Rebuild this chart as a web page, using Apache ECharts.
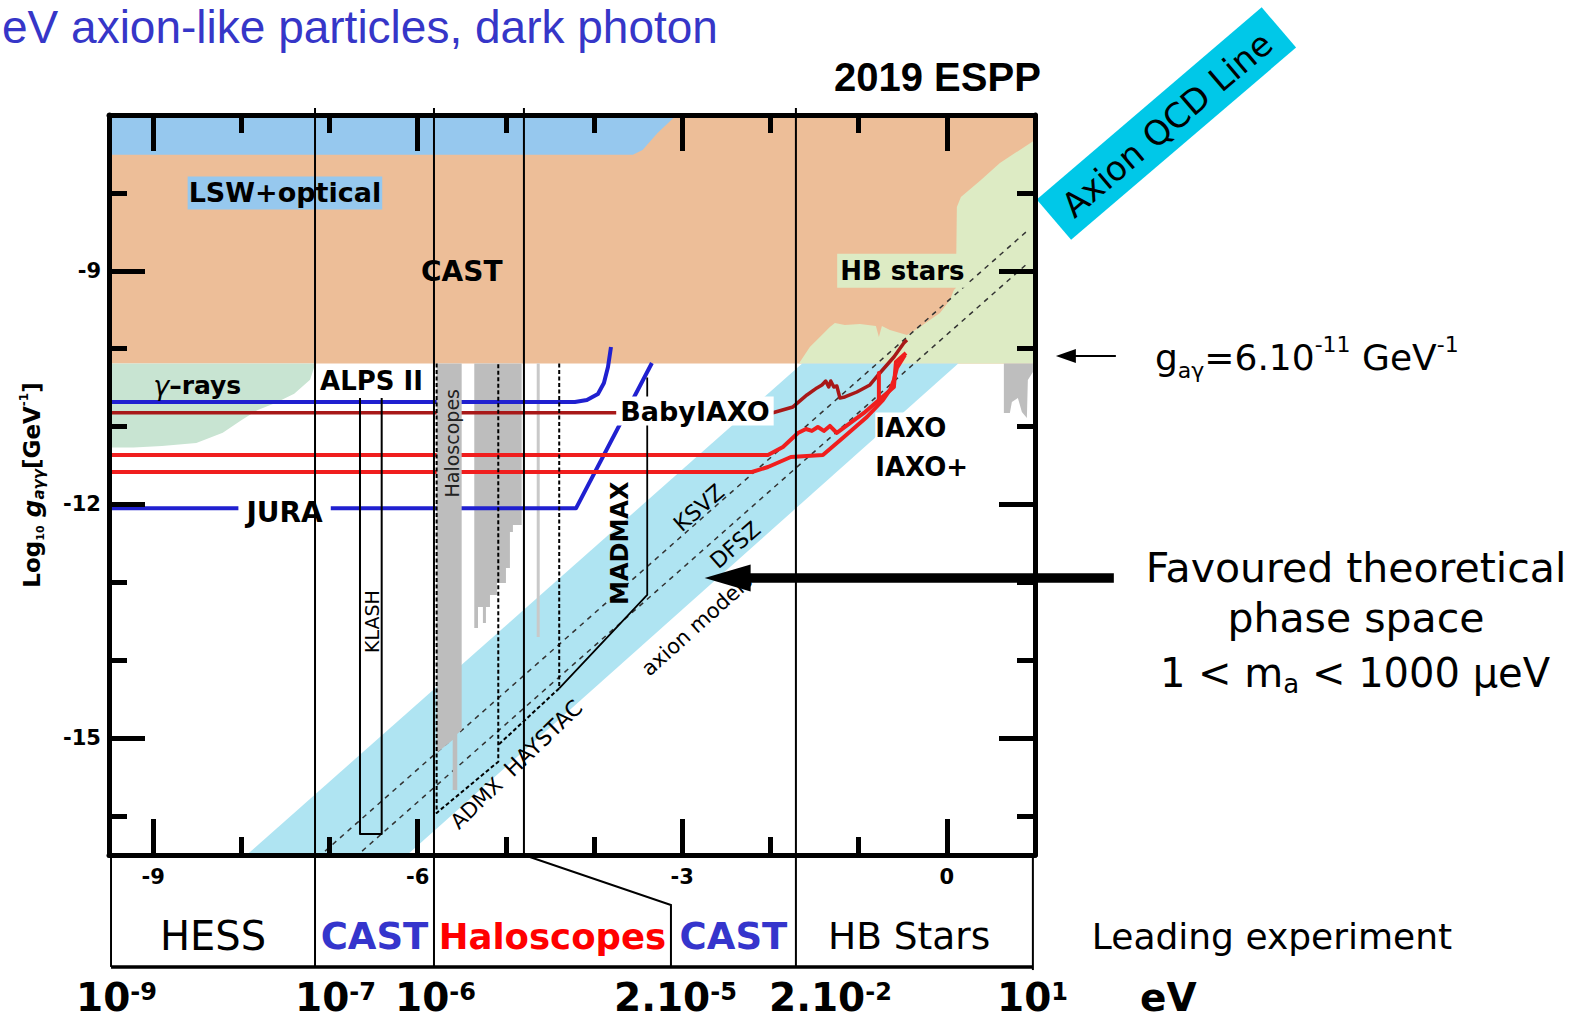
<!DOCTYPE html>
<html>
<head>
<meta charset="utf-8">
<title>Axion-like particles exclusion plot</title>
<script src="https://cdn.jsdelivr.net/npm/echarts@6.0.0/dist/echarts.min.js"></script>
<style>
html,body{margin:0;padding:0;background:#ffffff;}
#chart{width:1593px;height:1022px;}
</style>
</head>
<body>
<div id="chart"></div>
<script>
// ===== data: x = log10(m_a / eV), y = log10(g_agg / GeV^-1) =====
const xTickValues = [-9, -8, -7, -6, -5, -4, -3, -2, -1, 0];
const xLabelValues = [-9, -6, -3, 0];
const yTickValues = [-16, -15, -14, -13, -12, -11, -10, -9, -8];
const yLabelValues = [-15, -12, -9];

const castRegion = [[-9.5, -7], [1, -7], [1, -10.19], [-9.5, -10.19]];
const lswRegion = [[-9.5, -7], [-3.08, -7], [-3.1, -7.04], [-3.28, -7.23], [-3.45, -7.45], [-3.56, -7.51], [-9.5, -7.51]];
const hbRegion = [[1, -7.32], [0.602, -7.616], [0.387, -7.834], [0.16, -8.053], [0.114, -8.181], [0.103, -9.221], [0.08, -9.246], [0.035, -9.375], [-0.078, -9.542], [-0.192, -9.632], [-0.305, -9.721], [-0.452, -9.824], [-0.645, -9.76], [-0.736, -9.709], [-0.77, -9.85], [-0.804, -9.709], [-0.985, -9.683], [-1.156, -9.696], [-1.269, -9.67], [-1.326, -9.721], [-1.439, -9.85], [-1.553, -9.978], [-1.677, -10.19], [1, -10.19]];
const gammaRegion = [[-9.5, -10.19], [-7.16, -10.19], [-7.22, -10.40], [-7.40, -10.58], [-7.62, -10.70], [-7.82, -10.79], [-8.0, -10.92], [-8.21, -11.08], [-8.51, -11.21], [-8.9, -11.25], [-9.22, -11.27], [-9.5, -11.27]];
const axionBand = [[-7.94, -16.5], [-6.12, -16.5], [0.13, -10.19], [-1.64, -10.19]];
const hbGray = [[0.647, -10.19], [0.976, -10.19], [0.976, -10.299], [0.919, -10.402], [0.908, -10.89], [0.851, -10.813], [0.806, -10.633], [0.738, -10.684], [0.715, -10.825], [0.647, -10.825]];
const haloBar = [[-5.785, -10.19], [-5.501, -10.19], [-5.501, -14.895], [-5.551, -14.946], [-5.551, -15.665], [-5.603, -15.665], [-5.603, -15.023], [-5.785, -15.19]];
const haloSteps = [[-5.358, -10.19], [-4.821, -10.19], [-4.821, -12.263], [-4.92, -12.263], [-4.92, -12.353], [-4.954, -12.353], [-4.954, -12.815], [-4.999, -12.815], [-4.999, -13.008], [-5.101, -13.008], [-5.101, -13.162], [-5.18, -13.162], [-5.18, -13.316], [-5.226, -13.316], [-5.226, -13.521], [-5.26, -13.521], [-5.26, -13.316], [-5.316, -13.316], [-5.316, -13.585], [-5.358, -13.585]];
const haloThin = [[-4.633, -10.19], [-4.633, -13.70]];

const ksvzLine = [[-7.05, -16.45], [0.92, -8.48]];
const dfszLine = [[-6.63, -16.45], [0.92, -8.90]];

const alpsII = [[-9.5, -10.684], [-4.217, -10.684], [-4.081, -10.659], [-3.956, -10.581], [-3.888, -10.44], [-3.842, -10.235], [-3.808, -9.978]];
const jura = [[-9.5, -12.05], [-4.205, -12.05], [-3.344, -10.184]];
const babyIaxo = [[-9.5, -10.822], [-1.972, -10.822], [-1.745, -10.748], [-1.586, -10.594], [-1.473, -10.504], [-1.416, -10.466], [-1.373, -10.415], [-1.339, -10.492], [-1.316, -10.415], [-1.281, -10.492], [-1.247, -10.479], [-1.212, -10.633], [-1.156, -10.620], [-1.02, -10.556], [-0.872, -10.466], [-0.759, -10.312], [-0.6, -10.107], [-0.487, -9.927], [-0.452, -9.888]];
const iaxo = [[-9.5, -11.365], [-2.028, -11.365], [-1.858, -11.262], [-1.688, -11.082], [-1.597, -11.031], [-1.53, -11.056], [-1.462, -11.005], [-1.394, -11.056], [-1.326, -10.992], [-1.247, -11.082], [-0.94, -10.825], [-0.77, -10.659], [-0.77, -10.312], [-0.77, -10.659], [-0.6, -10.492], [-0.577, -10.171], [-0.463, -10.055]];
const iaxoPlus = [[-9.5, -11.583], [-2.21, -11.583], [-2.028, -11.519], [-1.768, -11.39], [-1.405, -11.365], [-1.167, -11.134], [-0.906, -10.877], [-0.725, -10.659], [-0.645, -10.53], [-0.6, -10.402], [-0.566, -10.248], [-0.475, -10.081]];

const admx = [[-5.785, -10.19], [-5.785, -15.96], [-5.086, -15.302], [-5.086, -10.19]];
const haystac = [[-4.395, -10.19], [-4.395, -14.36], [-5.086, -15.087]];
const madmax = [[-3.397, -10.37], [-3.397, -13.162], [-4.395, -14.36]];
const klash = [[-6.654, -10.633], [-6.654, -16.23], [-6.408, -16.23], [-6.408, -10.633]];

// leading-experiment mass boundaries (log10 eV)
const massBounds = [-9.477, -7.164, -5.815, -4.795, -3.128, -1.711, 0.976];
const leadingNames = ['HESS', 'CAST', 'Haloscopes', 'CAST', 'HB Stars'];
const massLabelMain = ['10', '10', '10', '2.10', '2.10', '10', 'eV'];
const massLabelSup = ['-9', '-7', '-6', '-5', '-2', '1', ''];

// ===== styling / layout =====
const FONT = 'DejaVu Sans';
const ARIAL = 'Liberation Sans';
const X_MIN = -9.5, X_MAX = 1, Y_MIN = -16.5, Y_MAX = -7;

function mkAxis(kind, pos, showLine, ticks, len, labels) {
  return {
    type: 'value', position: pos, z: 70,
    min: kind === 'x' ? X_MIN : Y_MIN, max: kind === 'x' ? X_MAX : Y_MAX,
    axisLine: {show: showLine, onZero: false, lineStyle: {color: '#000', width: 5}},
    axisTick: {show: true, inside: true, length: len, customValues: ticks, lineStyle: {color: '#000', width: 5}},
    axisLabel: labels ? {show: true, customValues: labels, margin: kind === 'x' ? 11 : 8,
      fontFamily: FONT, fontWeight: 'bold', fontSize: 21, color: '#000'} : {show: false},
    splitLine: {show: false}, axisPointer: {show: false}
  };
}
function poly(pts, color, z) {
  return {
    type: 'custom', coordinateSystem: 'cartesian2d', silent: true, z: z, animation: false,
    data: pts, encode: {x: 0, y: 1},
    renderItem: function (params, api) {
      if (params.dataIndex !== 0) return {type: 'group', children: []};
      return {type: 'polygon', shape: {points: pts.map(function (p) { return api.coord(p); })}, style: {fill: color}};
    }
  };
}
function line(pts, color, width, z, dash) {
  return {
    type: 'line', data: pts, symbol: 'none', silent: true, z: z, animation: false, clip: false,
    lineStyle: {color: color, width: width, type: dash || 'solid', join: 'round', cap: 'butt'}
  };
}

const option = {
  animation: false,
  backgroundColor: '#ffffff',
  grid: {left: 109, top: 115, width: 926, height: 740, containLabel: false},
  xAxis: [
    mkAxis('x', 'bottom', true, xTickValues, 18, xLabelValues),
    mkAxis('x', 'bottom', false, xLabelValues, 36, null),
    mkAxis('x', 'top', true, xTickValues, 18, null),
    mkAxis('x', 'top', false, xLabelValues, 36, null)
  ],
  yAxis: [
    mkAxis('y', 'left', true, yTickValues, 18, yLabelValues),
    mkAxis('y', 'left', false, yLabelValues, 36, null),
    mkAxis('y', 'right', true, yTickValues, 18, null),
    mkAxis('y', 'right', false, yLabelValues, 36, null)
  ],
  series: [
    poly(castRegion, '#EDBE98', 1),
    poly(hbRegion, '#DDEBC4', 2),
    poly(lswRegion, '#96C8EE', 3),
    poly(gammaRegion, '#C8E4D2', 2),
    poly(axionBand, '#AFE4F2', 2),
    poly(hbGray, '#BEBEBE', 3),
    poly(haloSteps, '#BDBDBD', 3),
    line(haloThin, '#C9C9C9', 3, 3),
    line(ksvzLine, '#333', 1.5, 4, [5, 5]),
    line(dfszLine, '#333', 1.5, 4, [5, 5]),
    line(alpsII, '#2020D0', 4, 5),
    line(jura, '#2020D0', 4, 5),
    line(babyIaxo, '#A81818', 3.5, 5),
    line(iaxo, '#F01E1E', 4, 5),
    line(iaxoPlus, '#F01E1E', 4, 5),
    poly(haloBar, '#BDBDBD', 6),
    line(admx, '#000', 2, 7, [4, 2.5]),
    line(haystac, '#000', 2, 7, [4, 2.5]),
    line(madmax, '#000', 1.8, 7),
    line(klash, '#000', 2, 7)
  ]
};

const chart = echarts.init(document.getElementById('chart'), null, {renderer: 'svg', width: 1593, height: 1022});
chart.setOption(option);
const P = function (x, y) { return chart.convertToPixel({gridIndex: 0}, [x, y]); };

function rs(size, o) {
  o = o || {};
  const s = {fontFamily: o.family || FONT, fontSize: size, fontWeight: o.bold ? 'bold' : 'normal',
    fontStyle: o.italic ? 'italic' : 'normal', fill: o.color || '#000', color: o.color || '#000'};
  if (o.lh) s.lineHeight = o.lh;
  if (o.va) s.verticalAlign = o.va;
  return s;
}
function T(x, y, text, o) {
  o = o || {};
  const st = {
    text: text, fill: o.color || '#000',
    fontFamily: o.family || FONT, fontSize: o.size || 20,
    fontWeight: o.bold ? 'bold' : 'normal', fontStyle: o.italic ? 'italic' : 'normal',
    align: o.align || 'center', verticalAlign: 'middle',
    textAlign: o.align || 'center', textVerticalAlign: 'middle'
  };
  if (o.bg) { st.backgroundColor = o.bg; st.padding = o.pad || 0; }
  if (o.rich) st.rich = o.rich;
  if (o.lh) st.lineHeight = o.lh;
  return {type: 'text', x: x, y: y, rotation: (o.rot || 0) * Math.PI / 180, z: o.z || 50, silent: true, style: st};
}

// annotation anchors inside the plot (data coordinates)
const plotLabels = [
  {text: 'LSW+optical', at: [-7.505, -8.0], size: 27, bold: true, bg: '#96C8EE', pad: [3, 1]},
  {text: 'CAST', at: [-5.5, -9.01], size: 28, bold: true},
  {text: 'HB stars', at: [-0.504, -9.0], size: 26, bold: true, bg: '#DDEBC4', pad: [4, 3]},
  {text: '{g|γ}{b|–rays}', at: [-8.5, -10.47], size: 25,
    rich: {g: rs(27, {italic: true}), b: rs(25, {bold: true})}},
  {text: 'ALPS II', at: [-6.524, -10.415], size: 26, bold: true},
  {text: 'BabyIAXO', at: [-2.856, -10.80], size: 27, bold: true, bg: '#fff', pad: [1, 4]},
  {text: 'JURA', at: [-7.509, -12.10], size: 28, bold: true, bg: '#fff', pad: [1, 8]},
  {text: 'IAXO', at: [-0.811, -11.012], size: 26, bold: true, align: 'left', bg: '#fff', pad: [2, 0]},
  {text: 'IAXO+', at: [-0.811, -11.515], size: 26, bold: true, align: 'left'},
  {text: 'Haloscopes', at: [-5.615, -11.214], size: 19, rot: 90, color: '#222'},
  {text: 'KLASH', at: [-6.518, -13.504], size: 19, rot: 90},
  {text: 'MADMAX', at: [-3.701, -12.498], size: 24, bold: true, rot: 90},
  {text: 'KSVZ', at: [-2.811, -12.045], size: 22, rot: 41, color: '#000'},
  {text: 'DFSZ', at: [-2.398, -12.52], size: 22, rot: 41, color: '#000'},
  {text: 'axion models', at: [-2.833, -13.547], size: 21, rot: 42, color: '#000'},
  {text: 'ADMX', at: [-5.331, -15.836], size: 21, rot: 44, color: '#000'},
  {text: 'HAYSTAC', at: [-4.576, -15.001], size: 22, rot: 44, color: '#000'}
];

const G = [];
plotLabels.forEach(function (l) {
  const p = P(l.at[0], l.at[1]);
  G.push(T(p[0], p[1], l.text, l));
});

// separator lines (through plot and the leading-experiment table)
const sepTop = -6.91, tableKink = -17.141, tableBottom = -17.937;
const sepPaths = [
  [[massBounds[1], sepTop], [massBounds[1], tableBottom]],
  [[massBounds[2], sepTop], [massBounds[2], tableBottom]],
  [[massBounds[3], sepTop], [massBounds[3], Y_MIN], [massBounds[4], tableKink], [massBounds[4], tableBottom]],
  [[massBounds[5], sepTop], [massBounds[5], tableBottom]],
  [[massBounds[0], Y_MIN], [massBounds[0], tableBottom]],
  [[massBounds[6], Y_MIN], [massBounds[6], tableBottom - 0.04]]
];
sepPaths.forEach(function (path) {
  G.push({type: 'polyline', z: 60, silent: true,
    shape: {points: path.map(function (p) { return P(p[0], p[1]); })},
    style: {stroke: '#000', lineWidth: 2, fill: null}});
});
G.push({type: 'polyline', z: 60, silent: true,
  shape: {points: [P(massBounds[0], tableBottom), P(massBounds[6], tableBottom)]},
  style: {stroke: '#000', lineWidth: 3.5, fill: null}});

// table texts
const tableStyles = [
  {size: 40, bold: false, color: '#000'},
  {size: 37, bold: true, color: '#3535CC'},
  {size: 35.5, bold: true, color: '#FF0000'},
  {size: 37, bold: true, color: '#3535CC'},
  {size: 37.5, bold: false, color: '#000'}
];
leadingNames.forEach(function (name, i) {
  let xm = (massBounds[i] + massBounds[i + 1]) / 2;
  if (i === 2) xm = (massBounds[2] + massBounds[4]) / 2;
  if (i === 3) xm = (massBounds[4] + massBounds[5]) / 2;
  if (i === 4) xm = (massBounds[5] + massBounds[6]) / 2 - 0.06;
  const px = P(xm, -17.54);
  G.push(T(px[0], 936, name, tableStyles[i]));
});
G.push(T(1272, 936, 'Leading experiment', {size: 36}));

// mass labels row
const massLabelX = [76, 295, 395, 614, 769, 997, 1140];
const massRich = {
  m: rs(39, {bold: true, lh: 34}),
  s: rs(24, {bold: true, lh: 22, va: 'top'})
};
massLabelMain.forEach(function (m, i) {
  const txt = '{m|' + m + '}' + (massLabelSup[i] ? '{s|' + massLabelSup[i] + '}' : '');
  G.push(T(massLabelX[i], 997, txt, {size: 39, bold: true, align: 'left', rich: massRich, lh: 34}));
});

// y-axis name
G.push(T(32, 485, '{a|Log}{s|10}{a| }{g|g}{gs|aγγ}{a|[GeV}{u|-1}{a|]}', {
  size: 22, bold: true, rot: 90,
  rich: {
    a: rs(23, {bold: true, lh: 28}),
    s: rs(11, {bold: true, lh: 16, va: 'bottom'}),
    g: rs(25, {bold: true, italic: true, lh: 28}),
    gs: rs(15, {bold: true, italic: true, lh: 18, va: 'bottom'}),
    u: rs(12, {bold: true, lh: 14, va: 'top'})
  }
}));

// title and headers
G.push(T(2, 27, 'eV axion-like particles, dark photon', {family: ARIAL, size: 46, color: '#3636C8', align: 'left'}));
G.push(T(834, 77, '2019 ESPP', {family: ARIAL, size: 40, bold: true, align: 'left'}));

// Axion QCD Line box
G.push({type: 'group', x: 1166.4, y: 123.5, rotation: 40.5 * Math.PI / 180, z: 40, silent: true, children: [
  {type: 'rect', shape: {x: -148, y: -26.5, width: 296, height: 53}, style: {fill: '#00C8E8'}},
  T(0, 1, 'Axion QCD Line', {size: 34})
]});

// g_ag annotation with arrow
const gTip = P(1.237, -10.094), gTail = P(1.917, -10.094);
G.push({type: 'polyline', z: 80, silent: true, shape: {points: [gTail, [gTip[0] + 15, gTip[1]]]}, style: {stroke: '#000', lineWidth: 2, fill: null}});
G.push({type: 'polygon', z: 80, silent: true, shape: {points: [gTip, [gTip[0] + 20, gTip[1] - 7], [gTip[0] + 20, gTip[1] + 7]]}, style: {fill: '#000'}});
G.push(T(1155, 357, '{m|g}{b|aγ}{m|=6.10}{p|-11}{m| GeV}{p|-1}', {size: 36, align: 'left', rich: {
  m: rs(36, {lh: 48}),
  b: rs(22, {lh: 23, va: 'bottom'}),
  p: rs(22, {lh: 37, va: 'top'})
}}));

// favoured phase space annotation with big arrow
const bTip = P(-2.746, -12.944), bTail = P(1.894, -12.944);
G.push({type: 'polyline', z: 80, silent: true, shape: {points: [bTail, [bTip[0] + 40, bTip[1]]]}, style: {stroke: '#000', lineWidth: 9.5, fill: null}});
G.push({type: 'polygon', z: 80, silent: true, shape: {points: [bTip, [bTip[0] + 46, bTip[1] - 13.5], [bTip[0] + 46, bTip[1] + 13.5]]}, style: {fill: '#000'}});
G.push(T(1356, 568, 'Favoured theoretical', {size: 41}));
G.push(T(1356, 618, 'phase space', {size: 41}));
G.push(T(1355, 673, '{m|1 < m}{b|a}{m| < 1000 μeV}', {size: 40, rich: {
  m: rs(40, {lh: 48}),
  b: rs(26, {lh: 19, va: 'bottom'})
}}));

chart.setOption({graphic: {elements: G}});
</script>
</body>
</html>
